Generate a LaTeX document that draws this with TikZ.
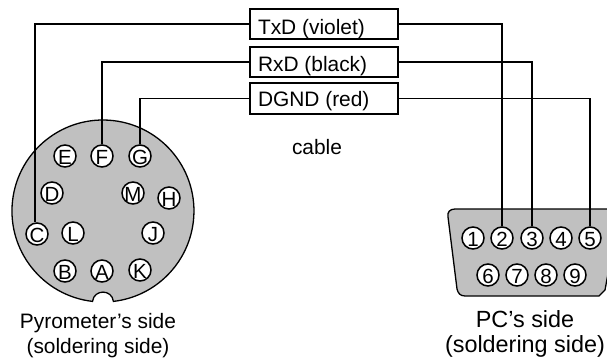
\documentclass[tikz,border=0pt]{standalone}
\usepackage{fontspec}
\setmainfont{Liberation Sans}
\newcommand\pintext[1]{\makebox[0pt]{\raisebox{-8.6pt}[0pt][0pt]{\fontsize{20.5pt}{21pt}\selectfont #1}}}
\newcommand\boxtext[2]{\makebox[132pt][l]{\raisebox{-#1pt}[0pt][0pt]{#2}}}
\definecolor{shellgray}{HTML}{C0C0C0}
\tikzset{
  pin/.style={circle,draw=black,line width=1.5pt,fill=white,minimum size=22pt,inner sep=0pt},
  cablebox/.style={rectangle,draw=black,line width=1.5pt,fill=white,minimum width=148pt,inner sep=0pt},
  wire/.style={draw=black,line width=1.5pt},
  shell/.style={draw=black,line width=1.3pt,fill=shellgray},
  caption/.style={anchor=base,inner sep=0pt}
}
\begin{document}
\begin{tikzpicture}[x=1pt,y=-1pt,font=\fontsize{20.9pt}{22pt}\selectfont]
\useasboundingbox (0,0) rectangle (607,358);
% round connector
\draw[shell] (92.5,301.4) arc[start angle=263.4,delta angle=-346.8,radius=91pt]
  .. controls (112,289) and (94,289) .. cycle;
% D-sub shell
\draw[shell] (455,209) -- (620,209) -- (605,290) -- (599,296) -- (465,296)
  .. controls (460,296) and (458,293) .. (457,289) -- (448,217) .. controls (447,212) and (450,209) .. (455,209) -- cycle;
% cable boxes
\node[cablebox,minimum height=30pt] (tx) at (324,24) {\boxtext{11}{TxD (violet)}};
\node[cablebox,minimum height=30pt] (rx) at (324,62) {\boxtext{10}{RxD (black)}};
\node[cablebox,minimum height=31pt] (gnd) at (324,98.5) {\boxtext{8.5}{DGND (red)}};
% pins
\node[pin] (pE) at (65,156) {\pintext{E}};
\node[pin] (pF) at (102,156) {\pintext{F}};
\node[pin] (pG) at (140,156) {\pintext{G}};
\node[pin] (pD) at (52,193) {\pintext{D}};
\node[pin] (pM) at (133,193) {\pintext{M}};
\node[pin] (pH) at (169,198) {\pintext{H}};
\node[pin] (pC) at (37,234) {\pintext{C}};
\node[pin] (pL) at (73,233) {\pintext{L}};
\node[pin] (pJ) at (153,233) {\pintext{J}};
\node[pin] (pB) at (65,271) {\pintext{B}};
\node[pin] (pA) at (102,271) {\pintext{A}};
\node[pin] (pK) at (140,270) {\pintext{K}};
\node[pin] (d1) at (473,238) {\pintext{1}};
\node[pin] (d2) at (502,238) {\pintext{2}};
\node[pin] (d3) at (532,238) {\pintext{3}};
\node[pin] (d4) at (561,238) {\pintext{4}};
\node[pin] (d5) at (590,238) {\pintext{5}};
\node[pin] (d6) at (488,275) {\pintext{6}};
\node[pin] (d7) at (517,275) {\pintext{7}};
\node[pin] (d8) at (546,275) {\pintext{8}};
\node[pin] (d9) at (575,275) {\pintext{9}};
% wires
\draw[wire] (tx.west) -| ([xshift=-2pt]pC.north);
\draw[wire] (rx.west) -| (pF.north);
\draw[wire] (gnd.west) -| (pG.north);
\draw[wire] (tx.east) -| (d2.north);
\draw[wire] (rx.east) -| (d3.north);
\draw[wire] (gnd.east) -| (d5.north);
% captions
\node[caption] (lcable) at (317,155) {cable};
\node[caption] (lp1) at (98,328) {Pyrometer's side};
\node[caption] (lp2) at (98,353) {(soldering side)};
\node[caption,font=\fontsize{23.4pt}{24pt}\selectfont] (lq1) at (525,327) {PC's side};
\node[caption,font=\fontsize{23.4pt}{24pt}\selectfont] (lq2) at (525,352) {(soldering side)};
\end{tikzpicture}
\end{document}
